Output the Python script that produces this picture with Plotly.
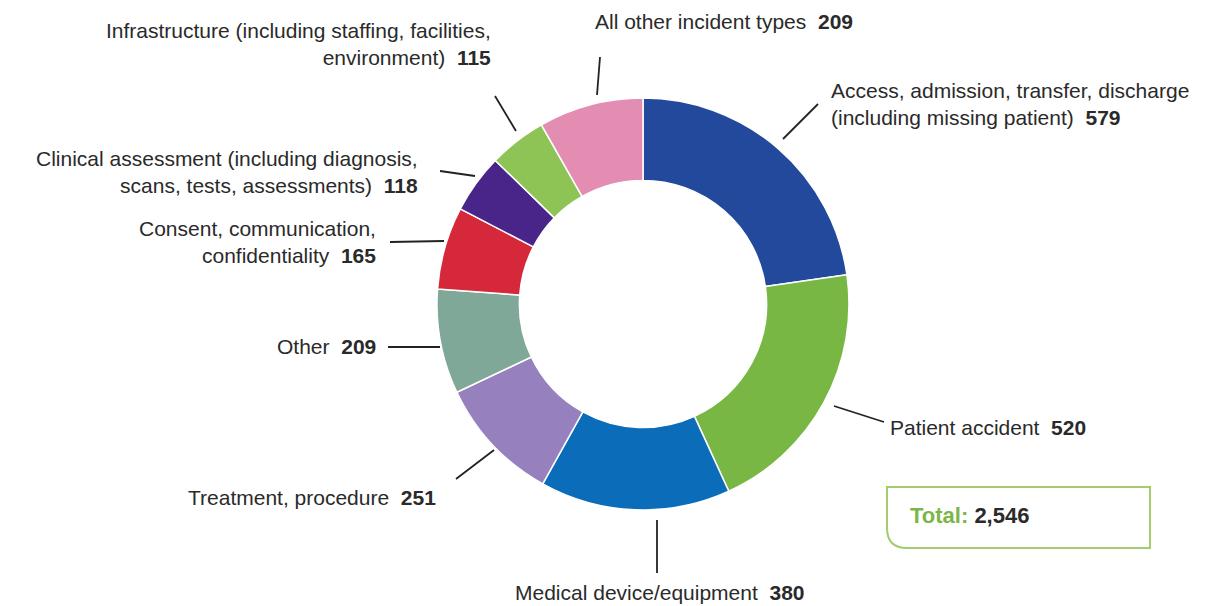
import plotly.graph_objects as go

W, H = 1207, 606

categories = [
    "Access, admission, transfer, discharge (including missing patient)",
    "Patient accident",
    "Medical device/equipment",
    "Treatment, procedure",
    "Other",
    "Consent, communication, confidentiality",
    "Clinical assessment (including diagnosis, scans, tests, assessments)",
    "Infrastructure (including staffing, facilities, environment)",
    "All other incident types",
]
values = [579, 520, 380, 251, 209, 165, 118, 115, 209]
colors = ["#22499b", "#79b744", "#0b6cb9", "#9680bd", "#7fa898",
          "#d6283b", "#4a2589", "#8dc455", "#e28db1"]

label_lines = [
    ["Access, admission, transfer, discharge", "(including missing patient)"],
    ["Patient accident"],
    ["Medical device/equipment"],
    ["Treatment, procedure"],
    ["Other"],
    ["Consent, communication,", "confidentiality"],
    ["Clinical assessment (including diagnosis,", "scans, tests, assessments)"],
    ["Infrastructure (including staffing, facilities,", "environment)"],
    ["All other incident types"],
]
total = sum(values)

FONT = "Liberation Sans"
TXT = "#2a2a2a"
OFF = 8  # page body margin


def px(x):
    return (x - OFF) / W


def py(y):
    return 1 - (y - OFF) / H


cx, cy, R = 643, 304, 206

fig = go.Figure(go.Pie(
    labels=categories, values=values, sort=False, direction="clockwise",
    rotation=0, hole=0.6, textinfo="none", hoverinfo="label+value",
    marker=dict(colors=colors, line=dict(color="white", width=1.5)),
    domain=dict(x=[px(cx - R), px(cx + R)], y=[py(cy + R), py(cy - R)]),
    showlegend=False,
))

label_pos = [
    (829, 104, "left", "left"),
    (888, 427, "left", "left"),
    (660, 592, "center", "center"),
    (438, 497, "right", "right"),
    (378, 346, "right", "right"),
    (378, 242, "right", "right"),
    (420, 172, "right", "right"),
    (493, 44, "right", "right"),
    (593, 22, "left", "left"),
]
leaders = [
    ((783, 139), (818, 104)),
    ((834, 406), (884, 422)),
    ((657, 520), (657, 573)),
    ((494, 450), (456, 479)),
    ((440, 347), (388, 347)),
    ((444, 241), (390, 242)),
    ((475, 176), (440, 171)),
    ((516, 131), (495, 96)),
    ((597, 95), (600, 57)),
]

annotations = []
shapes = []
for lines, v, (x, y, xa, al), (p0, p1) in zip(label_lines, values, label_pos, leaders):
    text = "<br>".join(lines[:-1] + [f"{lines[-1]}  <b>{v}</b>"])
    annotations.append(dict(
        x=px(x), y=py(y), xref="paper", yref="paper", text=text,
        showarrow=False, xanchor=xa, yanchor="middle", align=al,
        font=dict(family=FONT, size=21, color=TXT),
    ))
    shapes.append(dict(type="line", xref="paper", yref="paper",
                       x0=px(p0[0]), y0=py(p0[1]), x1=px(p1[0]), y1=py(p1[1]),
                       line=dict(color="#222222", width=1.8)))

bx0, by0, bx1, by1, r = 887, 487, 1150, 548, 20
path = (f"M {px(bx0)},{py(by0)} L {px(bx1)},{py(by0)} L {px(bx1)},{py(by1)} "
        f"L {px(bx0 + r)},{py(by1)} Q {px(bx0)},{py(by1)} {px(bx0)},{py(by1 - r)} Z")
shapes.append(dict(type="path", xref="paper", yref="paper", path=path,
                   line=dict(color="#a3cc6c", width=2), fillcolor="white"))
annotations.append(dict(
    x=px(908), y=py(515), xref="paper", yref="paper", showarrow=False,
    xanchor="left", yanchor="middle",
    text=f"<span style='color:#7ab648'><b>Total:</b></span> <b>{total:,}</b>",
    font=dict(family=FONT, size=22, color=TXT),
))

fig.update_layout(
    width=W, height=H, margin=dict(l=0, r=0, t=0, b=0),
    paper_bgcolor="white", plot_bgcolor="white",
    annotations=annotations, shapes=shapes,
)

fig.write_html("out.html")
